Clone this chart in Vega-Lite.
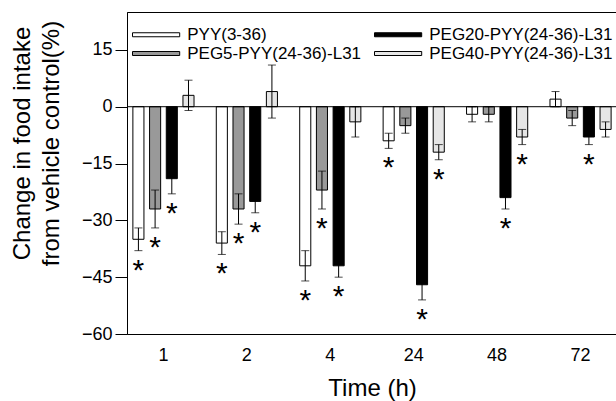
{
  "$schema": "https://vega.github.io/schema/vega-lite/v6.json",
  "width": 490,
  "height": 322,
  "autosize": {"type": "none"},
  "padding": {"left": 127, "top": 12, "right": 0, "bottom": 67},
  "background": "white",
  "config": {
    "view": {"stroke": "black", "strokeWidth": 1},
    "font": "Liberation Sans",
    "axis": {"grid": false}
  },
  "data": {
    "values": [
      {"time": "1", "group": "PYY(3-36)", "value": -35, "lo": -38, "hi": -32, "sig": true},
      {"time": "1", "group": "PEG5-PYY(24-36)-L31", "value": -27, "lo": -32, "hi": -22, "sig": true},
      {"time": "1", "group": "PEG20-PYY(24-36)-L31", "value": -19, "lo": -23, "hi": -15, "sig": true},
      {"time": "1", "group": "PEG40-PYY(24-36)-L31", "value": 3, "lo": -1, "hi": 7, "sig": false},
      {"time": "2", "group": "PYY(3-36)", "value": -36, "lo": -39, "hi": -33, "sig": true},
      {"time": "2", "group": "PEG5-PYY(24-36)-L31", "value": -27, "lo": -31, "hi": -23, "sig": true},
      {"time": "2", "group": "PEG20-PYY(24-36)-L31", "value": -25, "lo": -28, "hi": -22, "sig": true},
      {"time": "2", "group": "PEG40-PYY(24-36)-L31", "value": 4, "lo": -3, "hi": 11, "sig": false},
      {"time": "4", "group": "PYY(3-36)", "value": -42, "lo": -46, "hi": -38, "sig": true},
      {"time": "4", "group": "PEG5-PYY(24-36)-L31", "value": -22, "lo": -27, "hi": -17, "sig": true},
      {"time": "4", "group": "PEG20-PYY(24-36)-L31", "value": -42, "lo": -45, "hi": -39, "sig": true},
      {"time": "4", "group": "PEG40-PYY(24-36)-L31", "value": -4, "lo": -8, "hi": 0, "sig": false},
      {"time": "24", "group": "PYY(3-36)", "value": -9, "lo": -11, "hi": -7, "sig": true},
      {"time": "24", "group": "PEG5-PYY(24-36)-L31", "value": -5, "lo": -7, "hi": -3, "sig": false},
      {"time": "24", "group": "PEG20-PYY(24-36)-L31", "value": -47, "lo": -51, "hi": -43, "sig": true},
      {"time": "24", "group": "PEG40-PYY(24-36)-L31", "value": -12, "lo": -14, "hi": -10, "sig": true},
      {"time": "48", "group": "PYY(3-36)", "value": -2, "lo": -4, "hi": 0, "sig": false},
      {"time": "48", "group": "PEG5-PYY(24-36)-L31", "value": -2, "lo": -4, "hi": 0, "sig": false},
      {"time": "48", "group": "PEG20-PYY(24-36)-L31", "value": -24, "lo": -27, "hi": -21, "sig": true},
      {"time": "48", "group": "PEG40-PYY(24-36)-L31", "value": -8, "lo": -10, "hi": -6, "sig": true},
      {"time": "72", "group": "PYY(3-36)", "value": 2, "lo": 0, "hi": 4, "sig": false},
      {"time": "72", "group": "PEG5-PYY(24-36)-L31", "value": -3, "lo": -5, "hi": -1, "sig": false},
      {"time": "72", "group": "PEG20-PYY(24-36)-L31", "value": -8, "lo": -10, "hi": -6, "sig": true},
      {"time": "72", "group": "PEG40-PYY(24-36)-L31", "value": -6, "lo": -8, "hi": -4, "sig": false}
    ]
  },
  "layer": [
    {
      "encoding": {
        "x": {
          "field": "time",
          "type": "ordinal",
          "sort": ["1", "2", "4", "24", "48", "72"],
          "scale": {"paddingInner": 0.126, "paddingOuter": 0},
          "axis": {
            "title": "Time (h)",
            "labelAngle": 0,
            "ticks": false,
            "domain": false,
            "labelFontSize": 18,
            "labelColor": "black",
            "labelPadding": 12,
            "titleFontSize": 24,
            "titleFontWeight": "normal",
            "titleColor": "black",
            "titlePadding": 12
          }
        },
        "xOffset": {
          "field": "group",
          "sort": ["PYY(3-36)", "PEG5-PYY(24-36)-L31", "PEG20-PYY(24-36)-L31", "PEG40-PYY(24-36)-L31"],
          "scale": {"paddingInner": 0.337, "paddingOuter": 0.352}
        }
      },
      "layer": [
        {
          "mark": {"type": "bar", "stroke": "black", "strokeWidth": 1},
          "encoding": {
            "y": {
              "field": "value",
              "type": "quantitative",
              "scale": {"domain": [-60, 25], "nice": false, "zero": false},
              "axis": {
                "values": [-60, -45, -30, -15, 0, 15],
                "tickSize": 12,
                "tickColor": "black",
                "domainColor": "black",
                "labelFontSize": 18,
                "labelColor": "black",
                "labelPadding": 3,
                "title": ["Change in food intake", "from vehicle control(%)"],
                "titleFontSize": 24,
                "titleFontWeight": "normal",
                "titleColor": "black",
                "titleLineHeight": 29,
                "titleX": -93,
                "titleY": 131
              }
            },
            "y2": {"datum": 0},
            "color": {
              "field": "group",
              "type": "nominal",
              "scale": {
                "domain": ["PYY(3-36)", "PEG5-PYY(24-36)-L31", "PEG20-PYY(24-36)-L31", "PEG40-PYY(24-36)-L31"],
                "range": ["#ffffff", "#999999", "#000000", "#e6e6e6"]
              },
              "legend": {
                "orient": "none",
                "legendX": 20.6,
                "legendY": 14,
                "columns": 2,
                "title": null,
                "symbolType": "M-5.9,-0.5H5.9V0.5H-5.9Z",
                "symbolSize": 64,
                "symbolStrokeColor": "black",
                "symbolStrokeWidth": 1,
                "symbolOpacity": 1,
                "labelFontSize": 17,
                "labelColor": "black",
                "labelOffset": 22.6,
                "labelLimit": 300,
                "columnPadding": 10,
                "rowPadding": 1
              }
            }
          }
        },
        {
          "mark": {"type": "rule", "color": "black", "strokeWidth": 1},
          "encoding": {
            "y": {"field": "lo", "type": "quantitative"},
            "y2": {"field": "hi"}
          }
        },
        {
          "mark": {"type": "tick", "color": "black", "size": 8, "thickness": 1},
          "encoding": {"y": {"field": "lo", "type": "quantitative"}}
        },
        {
          "mark": {"type": "tick", "color": "black", "size": 8, "thickness": 1},
          "encoding": {"y": {"field": "hi", "type": "quantitative"}}
        },
        {
          "transform": [{"filter": "datum.sig"}],
          "mark": {"type": "text", "text": "*", "baseline": "top", "dy": 5, "fontSize": 30, "color": "black"},
          "encoding": {"y": {"field": "lo", "type": "quantitative"}}
        }
      ]
    },
    {
      "data": {"values": [{}]},
      "mark": {"type": "rule", "color": "black", "strokeWidth": 1},
      "encoding": {"y": {"datum": 0}}
    }
  ]
}
